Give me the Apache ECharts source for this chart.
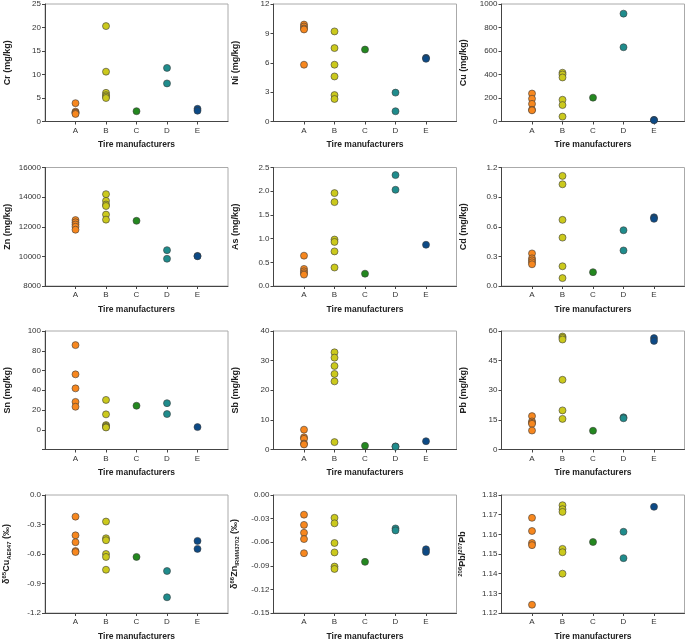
<!DOCTYPE html>
<html><head><meta charset="utf-8">
<script src="https://cdn.jsdelivr.net/npm/echarts@6/dist/echarts.min.js"></script>
<style>html,body{margin:0;padding:0;background:#fff}#c{width:685px;height:642px}</style>
</head><body><div id="c"></div>
<script>
const categories = ['A', 'B', 'C', 'D', 'E'];
const groupColors = ['#F7871E', '#CBC91C', '#23881F', '#1F8C8C', '#0C4A86'];

// values per manufacturer [A, B, C, D, E]
const cr   = [[3.9, 2.1, 1.9, 1.8, 1.6], [20.3, 10.6, 6.1, 5.6, 5.3, 5.0], [2.2], [11.4, 8.1], [2.7, 2.3]];
const ni   = [[9.9, 9.7, 9.5, 9.4, 5.8], [9.2, 7.5, 5.8, 4.6, 2.7, 2.3], [7.35], [2.95, 1.05], [6.5, 6.4]];
const cu   = [[238, 194, 150, 100, 95], [415, 400, 375, 185, 140, 42], [203], [918, 632], [14, 10]];
const zn   = [[12450, 12300, 12150, 12000, 11800], [14200, 13750, 13500, 13400, 12820, 12480], [12400], [10420, 9840], [10030, 10010]];
const as   = [[0.64, 0.36, 0.31, 0.27, 0.24], [1.96, 1.77, 0.98, 0.93, 0.73, 0.39], [0.26], [2.34, 2.03], [0.87]];
const cd   = [[0.33, 0.28, 0.26, 0.24, 0.22], [1.115, 1.03, 0.67, 0.49, 0.20, 0.08], [0.14], [0.565, 0.36], [0.696, 0.68]];
const sn   = [[85.7, 56.1, 41.9, 28.2, 23.3], [30.2, 15.6, 4.7, 3.8, 2.8, 2.3], [24.3], [26.9, 15.9], [2.7]];
const sb   = [[6.7, 4.1, 3.6, 2.0, 1.7], [32.8, 31.0, 28.2, 25.5, 23.0, 2.5], [1.25], [1.05, 0.95], [2.8]];
const pb   = [[16.9, 14.2, 13.5, 13.0, 9.6], [57.2, 56.5, 55.7, 35.3, 19.8, 15.5], [9.5], [16.3, 15.8], [56.4, 55.0]];
const dCu  = [[-0.22, -0.41, -0.48, -0.57, -0.58], [-0.27, -0.44, -0.46, -0.60, -0.63, -0.76], [-0.63], [-0.773, -1.04], [-0.467, -0.548]];
const dZn  = [[-0.025, -0.038, -0.048, -0.056, -0.074], [-0.029, -0.036, -0.061, -0.073, -0.091, -0.094], [-0.085], [-0.0425, -0.045], [-0.069, -0.0725]];
const pbr  = [[1.1684, 1.1617, 1.1556, 1.1545, 1.1242], [1.1748, 1.1728, 1.1714, 1.1526, 1.1509, 1.1400], [1.1561], [1.1613, 1.1479], [1.1740]];

const panels = [
  {vals: cr,  name: 'Cr (mg/kg)', min: 0, max: 25, interval: 5, dec: 0},
  {vals: ni,  name: 'Ni (mg/kg)', min: 0, max: 12, interval: 3, dec: 0},
  {vals: cu,  name: 'Cu (mg/kg)', min: 0, max: 1000, interval: 200, dec: 0},
  {vals: zn,  name: 'Zn (mg/kg)', min: 8000, max: 16000, interval: 2000, dec: 0},
  {vals: as,  name: 'As (mg/kg)', min: 0, max: 2.5, interval: 0.5, dec: 1},
  {vals: cd,  name: 'Cd (mg/kg)', min: 0, max: 1.2, interval: 0.3, dec: 1},
  {vals: sn,  name: 'Sn (mg/kg)', min: -20, max: 100, interval: 20, dec: 0, hideMin: true},
  {vals: sb,  name: 'Sb (mg/kg)', min: 0, max: 40, interval: 10, dec: 0},
  {vals: pb,  name: 'Pb (mg/kg)', min: 0, max: 60, interval: 15, dec: 0},
  {vals: dCu, name: '{n|δ}{sup|65}{n|Cu}{sub|AE647}{n| (‰)}', min: -1.2, max: 0, interval: 0.3, dec: 1},
  {vals: dZn, name: '{n|δ}{sup|66}{n|Zn}{sub|IRMM3702}{n| (‰)}', min: -0.15, max: 0, interval: 0.03, dec: 2},
  {vals: pbr, name: '{sup|206}{n|Pb/}{sup|207}{n|Pb}', min: 1.12, max: 1.18, interval: 0.01, dec: 2}
];

const FONT = '"Liberation Sans", Arial, sans-serif';
const colLeft = [45, 273.5, 501.5];
const rowTop = [3, 167.5, 331, 495];
const W = 183, H = 118.5;

const grid = [], xAxis = [], yAxis = [], series = [];
panels.forEach((p, i) => {
  const r = Math.floor(i / 3), c = i % 3;
  grid.push({left: colLeft[c], top: rowTop[r], width: W, height: H, show: true,
    borderColor: '#aaaaaa', borderWidth: 1, backgroundColor: 'transparent'});
  xAxis.push({
    type: 'value', gridIndex: i, min: 0, max: categories.length + 1, interval: 1,
    name: 'Tire manufacturers', nameLocation: 'middle', nameGap: 19,
    nameTextStyle: {fontFamily: FONT, fontSize: 8.5, fontWeight: 'bold', color: '#222'},
    axisLine: {onZero: false, lineStyle: {color: '#444', width: 1}},
    axisTick: {show: true, length: 3, lineStyle: {color: '#444'}, customValues: categories.map((_, k) => k + 1)},
    axisLabel: {fontFamily: FONT, fontSize: 8, color: '#333', margin: 5,
      customValues: categories.map((_, k) => k + 1),
      formatter: v => categories[Math.round(v) - 1] || ''},
    splitLine: {show: false}
  });
  yAxis.push({
    type: 'value', gridIndex: i, min: p.min, max: p.max, interval: p.interval,
    name: p.name, nameLocation: 'middle', nameGap: 33, nameRotate: 90,
    nameTextStyle: {fontFamily: FONT, fontSize: 9, fontWeight: 'bold', color: '#222',
      rich: {
        n: {fontFamily: FONT, fontSize: 9, fontWeight: 'bold', color: '#222'},
        sup: {fontFamily: FONT, fontSize: 6, fontWeight: 'bold', color: '#222', padding: [0, 0, 5, 0]},
        sub: {fontFamily: FONT, fontSize: 6, fontWeight: 'bold', color: '#222', padding: [5, 0, 0, 0]}
      }},
    axisLine: {show: true, onZero: false, lineStyle: {color: '#444', width: 1}},
    axisTick: {show: true, length: 3, lineStyle: {color: '#444'}},
    axisLabel: {fontFamily: FONT, fontSize: 8, color: '#333', margin: 4,
      formatter: v => (p.hideMin && Math.abs(v - p.min) < 1e-9) ? '' : Number(v).toFixed(p.dec)},
    splitLine: {show: false}
  });
  p.vals.forEach((g, k) => {
    series.push({
      type: 'scatter', xAxisIndex: i, yAxisIndex: i,
      symbol: 'circle', symbolSize: 7,
      itemStyle: {color: groupColors[k], borderColor: '#3a3a3a', borderWidth: 0.6, opacity: 1},
      data: g.map(v => [k + 1, v]),
      silent: true, animation: false
    });
  });
});

const chart = echarts.init(document.getElementById('c'), null, {renderer: 'canvas'});
chart.setOption({animation: false, backgroundColor: '#fff', grid, xAxis, yAxis, series});
</script></body></html>
